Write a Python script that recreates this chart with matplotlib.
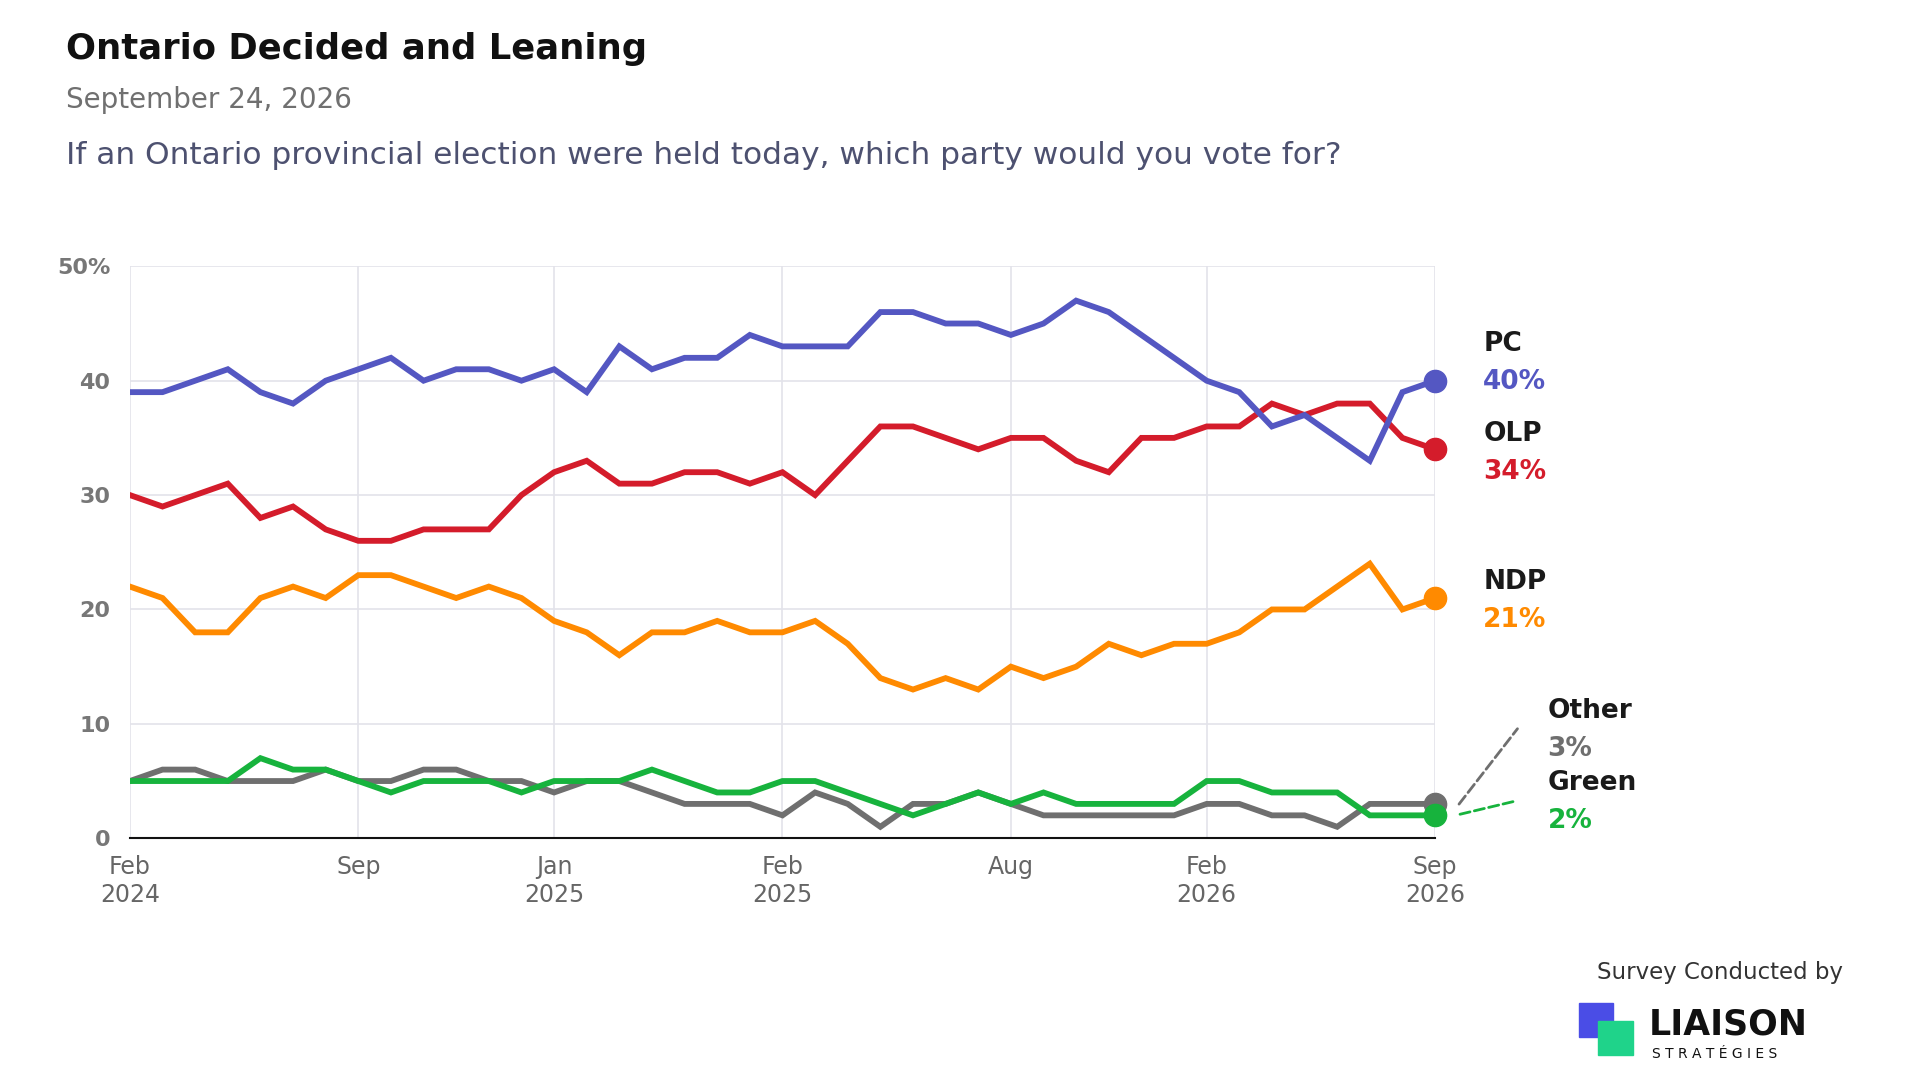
import numpy as np
import matplotlib.pyplot as plt
import matplotlib.patches as mpatches

# values per survey wave, Feb 2024 .. Sep 2026 (41 waves)
pc = [39, 39, 40, 41, 39, 38, 40, 41, 42, 40, 41, 41, 40, 41, 39, 43, 41, 42, 42, 44, 43,
      43, 43, 46, 46, 45, 45, 44, 45, 47, 46, 44, 42, 40, 39, 36, 37, 35, 33, 39, 40]
olp = [30, 29, 30, 31, 28, 29, 27, 26, 26, 27, 27, 27, 30, 32, 33, 31, 31, 32, 32, 31, 32,
       30, 33, 36, 36, 35, 34, 35, 35, 33, 32, 35, 35, 36, 36, 38, 37, 38, 38, 35, 34]
ndp = [22, 21, 18, 18, 21, 22, 21, 23, 23, 22, 21, 22, 21, 19, 18, 16, 18, 18, 19, 18, 18,
       19, 17, 14, 13, 14, 13, 15, 14, 15, 17, 16, 17, 17, 18, 20, 20, 22, 24, 20, 21]
green = [5, 5, 5, 5, 7, 6, 6, 5, 4, 5, 5, 5, 4, 5, 5, 5, 6, 5, 4, 4, 5,
         5, 4, 3, 2, 3, 4, 3, 4, 3, 3, 3, 3, 5, 5, 4, 4, 4, 2, 2, 2]
other = [5, 6, 6, 5, 5, 5, 6, 5, 5, 6, 6, 5, 5, 4, 5, 5, 4, 3, 3, 3, 2,
         4, 3, 1, 3, 3, 4, 3, 2, 2, 2, 2, 2, 3, 3, 2, 2, 1, 3, 3, 3]
tick_pos = [0, 7, 13, 20, 27, 33, 40]
tick_labels = ["Feb\n2024", "Sep", "Jan\n2025", "Feb\n2025", "Aug", "Feb\n2026", "Sep\n2026"]

colors = {"PC": "#5457c2", "OLP": "#d41c2b", "NDP": "#ff8a00", "Green": "#17b33d", "Other": "#6f6f6f"}
W, H = 1552, 880

fig = plt.figure(figsize=(19.2, 10.8), dpi=100)
fig.patch.set_facecolor("white")
ax = fig.add_axes([105 / W, 1 - 683 / H, (1160 - 105) / W, (683 - 217) / H])
x = np.arange(len(pc))

for name, vals in [("Other", other), ("Green", green), ("NDP", ndp), ("OLP", olp), ("PC", pc)]:
    ax.plot(x, vals, color=colors[name], lw=4.2, solid_joinstyle="miter", zorder=3)
    ax.plot(x[-1], vals[-1], "o", color=colors[name], ms=16, zorder=4, clip_on=False)

ax.set_xlim(0, 40)
ax.set_ylim(0, 50)
ax.set_yticks([0, 10, 20, 30, 40, 50])
ax.set_yticklabels(["0", "10", "20", "30", "40", "50%"])
ax.set_xticks(tick_pos)
ax.set_xticklabels(tick_labels)
ax.grid(True, color="#e3e3ea", lw=1.2)
for s in ["top", "right", "left"]:
    ax.spines[s].set_visible(False)
ax.spines["bottom"].set_color("#111111")
ax.spines["bottom"].set_linewidth(1.5)
ax.tick_params(length=0, labelsize=17, colors="#666666", pad=12)
for t in ax.get_yticklabels():
    t.set_fontweight("bold")
    t.set_color("#777777")
    t.set_fontsize(16)
ax.tick_params(axis="y", pad=14)

# end labels
def lab(px, py, name, val, col):
    fig.text(px / W, 1 - py / H, name, fontsize=19, fontweight="bold", color="#1a1a1a")
    fig.text(px / W, 1 - (py + 31) / H, f"{val}%", fontsize=19, fontweight="bold", color=col)

lab(1199, 286, "PC", pc[-1], colors["PC"])
lab(1199, 359, "OLP", olp[-1], colors["OLP"])
lab(1199, 480, "NDP", ndp[-1], colors["NDP"])
lab(1251, 585, "Other", other[-1], "#6f6f6f")
lab(1251, 644, "Green", green[-1], colors["Green"])
ax.annotate("", xy=(1228 / W, 1 - 592 / H), xytext=(1178 / W, 1 - 657 / H), xycoords="figure fraction",
            arrowprops=dict(arrowstyle="-", ls="--", color="#6f6f6f", lw=2))
ax.annotate("", xy=(1228 / W, 1 - 652 / H), xytext=(1178 / W, 1 - 664 / H), xycoords="figure fraction",
            arrowprops=dict(arrowstyle="-", ls="--", color=colors["Green"], lw=2))

# titles
fig.text(53 / W, 1 - 48 / H, "Ontario Decided and Leaning", fontsize=25.5, fontweight="bold", color="#111111")
fig.text(53 / W, 1 - 88 / H, "September 24, 2026", fontsize=20, color="#707070")
fig.text(53 / W, 1 - 134 / H, "If an Ontario provincial election were held today, which party would you vote for?",
         fontsize=22.5, color="#4d5170")

# logo
fig.text(1390 / W, 1 - 798 / H, "Survey Conducted by", fontsize=16.5, color="#333333", ha="center")
fig.patches.append(mpatches.Rectangle((1276 / W, 1 - 845 / H), 28 / W, 28 / H, transform=fig.transFigure,
                                      color="#4a4de6"))
fig.patches.append(mpatches.Rectangle((1292 / W, 1 - 860 / H), 28 / W, 28 / H, transform=fig.transFigure,
                                      color="#1fd38a"))
fig.text(1333 / W, 1 - 843 / H, "LIAISON", fontsize=25, fontweight="bold", color="#111111")
fig.text(1335 / W, 1 - 862 / H, "S T R A T É G I E S", fontsize=10, color="#111111")

fig.savefig("out.png", dpi=100, facecolor="white")
